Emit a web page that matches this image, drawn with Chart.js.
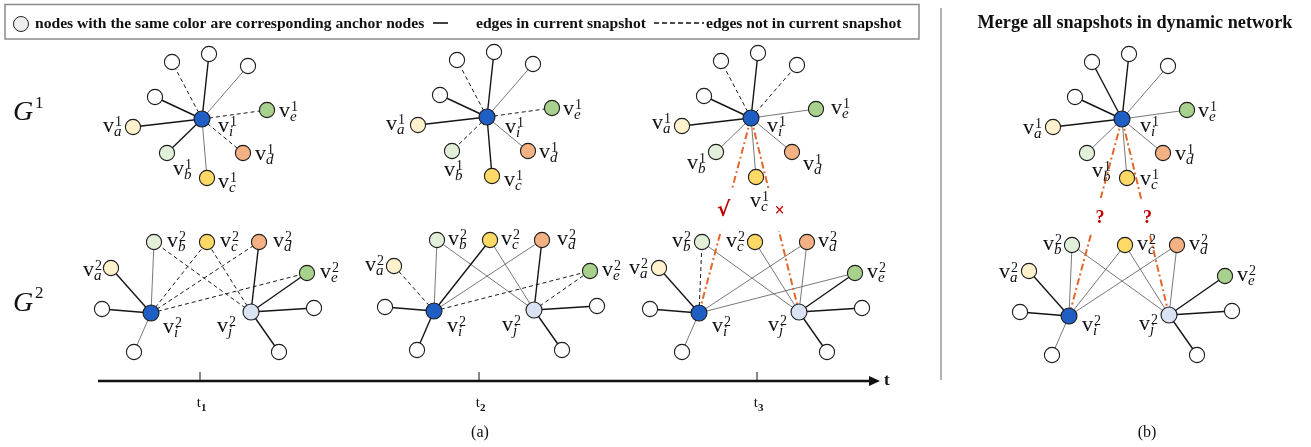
<!DOCTYPE html>
<html>
<head>
<meta charset="utf-8">
<script src="https://cdn.jsdelivr.net/npm/chart.js@4.4.1/dist/chart.umd.min.js"></script>
<style>
  html, body { margin: 0; padding: 0; background: #fff; }
  #wrap { position: relative; width: 1311px; height: 447px; }
</style>
</head>
<body>
<div id="wrap"><canvas id="graph"></canvas></div>
<script>
// G1: star around v_i^1 (offsets of every neighbour from the centre)
const g1Names = ["w1", "w2", "w3", "w4", "va", "vb", "vc", "vd", "ve"];
const g1Dx = [-30, 7, 46, -47, -69, -35, 5, 41, 65];
const g1Dy = [-57, -65, -53, -22, 8, 34, 59, 34, -9];
const g1CenterX = [202, 487, 751, 1122];
const g1CenterY = [119, 117, 118, 119];

// G2: two hubs v_i^2 and v_j^2 (offsets from v_i^2)
const g2Names = ["vj", "va", "vb", "vc", "vd", "ve", "wl", "wbi", "wr", "wbj"];
const g2Dx = [100, -40, 3, 56, 108, 156, -49, -17, 163, 128];
const g2Dy = [-1, -45, -71, -71, -71, -40, -4, 39, -5, 39];
const g2OriginX = [151, 434, 699, 1069];
const g2OriginY = [313, 311, 313, 316];

// edges per panel (s = solid, t = thin solid, d = dashed)
const g1Edges = [
  "w1:d w2:s w3:t w4:s va:s vb:s vc:t vd:d ve:d",
  "w1:d w2:s w3:t w4:s va:s vb:d vc:s vd:t ve:d",
  "w1:d w2:s w3:d w4:s va:s vb:t vc:t vd:t ve:t",
  "w1:s w2:s w3:t w4:s va:s vb:t vc:t vd:t ve:t"
];
const g2Edges = [
  "vi-va:s vi-vb:t vi-wl:s vi-wbi:t vi-vc:d vi-vd:d vi-ve:d vj-vb:d vj-vc:d vj-vd:s vj-ve:s vj-wr:s vj-wbj:s",
  "vi-va:d vi-vb:t vi-vc:s vi-vd:t vi-ve:d vi-wl:s vi-wbi:s vj-vb:t vj-vc:t vj-vd:s vj-ve:d vj-wr:s vj-wbj:s",
  "vi-va:s vi-vb:d vi-vd:t vi-ve:t vi-wl:s vi-wbi:t vj-vb:t vj-vc:t vj-vd:t vj-ve:s vj-wr:s vj-wbj:s",
  "vi-va:s vi-vb:t vi-vc:t vi-vd:t vi-wl:s vi-wbi:t vj-vb:t vj-vc:t vj-vd:t vj-ve:s vj-wr:s vj-wbj:s"
];

// anchor links v_i^1 -> G2 hub, with the mark drawn in the gap
const anchorPanel = [2, 2, 3, 3];
const anchorTarget = ["vi", "vj", "vi", "vj"];
const anchorMark = ["√", "×", "?", "?"];

const timeTicks = ["1", "2", "3"];
const timeTickX = [200, 479, 757];

// ---- layout / style tables ----
const nodeColors = {
  vi: "#1f5fc4", vj: "#dae3f3", va: "#fff2cc", vb: "#e2efd9",
  vc: "#ffd966", vd: "#f4b183", ve: "#a9d18e"
};
const edgeStyles = {
  s: { borderColor: "#151515", borderWidth: 1.4, borderDash: [] },
  t: { borderColor: "#555555", borderWidth: 0.8, borderDash: [] },
  d: { borderColor: "#1a1a1a", borderWidth: 1, borderDash: [4, 3] }
};
const g1LabelPos = [
  { va: [-30, 0], vi: [16, 8], ve: [12, 2], vd: [12, 2], vb: [6, 17], vc: [11, 5] },
  { va: [-32, 0], vi: [18, 11], ve: [11, 2], vd: [11, 2], vb: [-8, 20], vc: [12, 5] },
  { va: [-30, -2], vi: [16, 9], ve: [15, 0], vd: [11, 13], vb: [-29, 12], vc: [-6, 25] },
  { va: [-30, 2], vi: [18, 8], ve: [11, 2], vd: [12, 2], vb: [5, 19], vc: [13, 2] }
];
const g2LabelPos = [
  { va: [-28, 3], vb: [13, 0], vc: [13, 0], vd: [14, 0], ve: [13, 0], vi: [12, 15], vj: [-34, 15] },
  { va: [-29, 0], vb: [11, 0], vc: [11, 0], vd: [15, 0], ve: [12, 0], vi: [13, 16], vj: [-32, 16] },
  { va: [-30, 1], vb: [-30, 0], vc: [-29, 0], vd: [11, 0], ve: [12, 0], vi: [13, 14], vj: [-31, 14] },
  { va: [-30, 2], vb: [-29, 0], vc: [12, 0], vd: [12, 0], ve: [12, 0], vi: [13, 10], vj: [-30, 10] }
];
const anchorGap = [[188, 231], [188, 231], [198, 234], [199, 236]];
const markOffset = [[-3, 211], [6, 211], [4, 218], [2, 218]];

function nodePos(panel, graph, name) {
  if (graph === 1) {
    const cx = g1CenterX[panel], cy = g1CenterY[panel];
    if (name === "vi") return { x: cx, y: cy };
    const k = g1Names.indexOf(name);
    return { x: cx + g1Dx[k], y: cy + g1Dy[k] };
  }
  const ox = g2OriginX[panel], oy = g2OriginY[panel];
  if (name === "vi") return { x: ox, y: oy };
  const k = g2Names.indexOf(name);
  return { x: ox + g2Dx[k], y: oy + g2Dy[k] };
}

const datasets = [];
const nodePts = [], nodeFill = [], nodeRadius = [];

for (let p = 0; p < 4; p++) {
  g1Edges[p].split(" ").forEach(spec => {
    const [to, st] = spec.split(":");
    datasets.push(Object.assign({
      data: [nodePos(p, 1, "vi"), nodePos(p, 1, to)],
      showLine: true, pointRadius: 0, fill: false, order: 2
    }, edgeStyles[st]));
  });
  g2Edges[p].split(" ").forEach(spec => {
    const [pair, st] = spec.split(":");
    const [a, b] = pair.split("-");
    datasets.push(Object.assign({
      data: [nodePos(p, 2, a), nodePos(p, 2, b)],
      showLine: true, pointRadius: 0, fill: false, order: 2
    }, edgeStyles[st]));
  });
  ["vi"].concat(g1Names).forEach(n => {
    nodePts.push(nodePos(p, 1, n));
    nodeFill.push(nodeColors[n] || "#ffffff");
    nodeRadius.push(n === "vi" ? 8 : 7.6);
  });
  ["vi"].concat(g2Names).forEach(n => {
    nodePts.push(nodePos(p, 2, n));
    nodeFill.push(nodeColors[n] || "#ffffff");
    nodeRadius.push(n === "vi" || n === "vj" ? 8 : 7.6);
  });
}

anchorPanel.forEach((p, i) => {
  datasets.push({
    data: [nodePos(p, 1, "vi"), nodePos(p, 2, anchorTarget[i])],
    showLine: true, pointRadius: 0, fill: false, order: 1,
    borderColor: "#e0682a", borderWidth: 2, borderDash: [7, 3, 2, 3]
  });
});

datasets.push({
  data: nodePts, showLine: false, order: 0,
  pointRadius: nodeRadius, pointHoverRadius: nodeRadius,
  pointBackgroundColor: nodeFill, pointBorderColor: "#1c1c1c", pointBorderWidth: 1.1
});

const SERIF = "'Liberation Serif', 'Times New Roman', serif";

function vLabel(ctx, x, cy, sub, sup) {
  ctx.fillStyle = "#111";
  ctx.textAlign = "left";
  ctx.textBaseline = "alphabetic";
  ctx.font = "22px " + SERIF;
  ctx.fillText("v", x, cy + 5);
  const w = ctx.measureText("v").width;
  ctx.font = "14px " + SERIF;
  ctx.fillText(sup, x + w + 1, cy - 1);
  ctx.font = "italic 15px " + SERIF;
  ctx.fillText(sub, x + w, cy + 9);
}

const decor = {
  id: "decor",
  beforeDatasetsDraw(chart) {
    const ctx = chart.ctx;
    const X = v => chart.scales.x.getPixelForValue(v);
    const Y = v => chart.scales.y.getPixelForValue(v);
    ctx.save();
    // legend frame
    ctx.strokeStyle = "#8a8a8a";
    ctx.lineWidth = 1.5;
    ctx.strokeRect(X(5), Y(4.5), X(919) - X(5), Y(39) - Y(4.5));
    ctx.beginPath();
    ctx.arc(X(21), Y(24), 7.5, 0, Math.PI * 2);
    ctx.fillStyle = "#eeeeee";
    ctx.fill();
    ctx.strokeStyle = "#222";
    ctx.lineWidth = 1;
    ctx.stroke();
    ctx.font = "bold 15.6px " + SERIF;
    ctx.fillStyle = "#111";
    ctx.textBaseline = "middle";
    ctx.fillText("nodes with the same color are corresponding anchor nodes", X(35), Y(24));
    ctx.fillText("edges in current snapshot", X(476), Y(24));
    ctx.fillText("edges not in current snapshot", X(706), Y(24));
    ctx.strokeStyle = "#111";
    ctx.lineWidth = 1.6;
    ctx.beginPath(); ctx.moveTo(X(433), Y(23)); ctx.lineTo(X(448), Y(23)); ctx.stroke();
    ctx.setLineDash([5, 3]);
    ctx.beginPath(); ctx.moveTo(X(654), Y(23)); ctx.lineTo(X(704), Y(23)); ctx.stroke();
    ctx.setLineDash([]);

    // separator between (a) and (b)
    ctx.strokeStyle = "#9a9a9a";
    ctx.lineWidth = 1.5;
    ctx.beginPath(); ctx.moveTo(X(941), Y(8)); ctx.lineTo(X(941), Y(380)); ctx.stroke();

    ctx.font = "bold 18.2px " + SERIF;
    ctx.textAlign = "center";
    ctx.fillText("Merge all snapshots in dynamic network", X(1135), Y(23));

    // time axis
    ctx.strokeStyle = "#111";
    ctx.lineWidth = 2.5;
    ctx.beginPath(); ctx.moveTo(X(98), Y(381)); ctx.lineTo(X(872), Y(381)); ctx.stroke();
    ctx.beginPath();
    ctx.moveTo(X(880), Y(381)); ctx.lineTo(X(869), Y(376)); ctx.lineTo(X(869), Y(386)); ctx.closePath();
    ctx.fillStyle = "#111";
    ctx.fill();
    ctx.font = "bold 17px " + SERIF;
    ctx.textAlign = "left";
    ctx.fillText("t", X(884), Y(381));
    ctx.lineWidth = 1;
    timeTicks.forEach((t, i) => {
      const x = X(timeTickX[i]);
      ctx.beginPath(); ctx.moveTo(x, Y(372)); ctx.lineTo(x, Y(381)); ctx.stroke();
      ctx.font = "15px " + SERIF;
      ctx.textAlign = "right";
      ctx.fillText("t", x + 1, Y(403));
      ctx.font = "bold 11px " + SERIF;
      ctx.textAlign = "left";
      ctx.fillText(t, x + 1, Y(408));
    });
    ctx.font = "16px " + SERIF;
    ctx.textAlign = "center";
    ctx.fillText("(a)", X(480), Y(433));
    ctx.fillText("(b)", X(1147), Y(433));
    ctx.restore();
  },
  afterDatasetsDraw(chart) {
    const ctx = chart.ctx;
    const X = v => chart.scales.x.getPixelForValue(v);
    const Y = v => chart.scales.y.getPixelForValue(v);
    ctx.save();
    // gaps in the anchor links, then their marks
    anchorPanel.forEach((p, i) => {
      const a = nodePos(p, 1, "vi"), b = nodePos(p, 2, anchorTarget[i]);
      const [y0, y1] = anchorGap[i];
      const xm = a.x + (b.x - a.x) * ((y0 + y1) / 2 - a.y) / (b.y - a.y);
      ctx.fillStyle = "#fff";
      ctx.fillRect(X(xm - 7), Y(y0), 14, Y(y1) - Y(y0));
      ctx.fillStyle = "#c00000";
      ctx.font = anchorMark[i] === "√" ? "bold 20px 'DejaVu Sans', sans-serif" : "bold 18px " + SERIF;
      ctx.textAlign = "center";
      ctx.textBaseline = "middle";
      ctx.fillText(anchorMark[i], X(xm + markOffset[i][0]), Y(markOffset[i][1]));
    });
    // node labels
    for (let p = 0; p < 4; p++) {
      Object.entries(g1LabelPos[p]).forEach(([n, off]) => {
        const q = nodePos(p, 1, n);
        vLabel(ctx, X(q.x + off[0]), Y(q.y + off[1]), n[1], "1");
      });
      Object.entries(g2LabelPos[p]).forEach(([n, off]) => {
        const q = nodePos(p, 2, n);
        vLabel(ctx, X(q.x + off[0]), Y(q.y + off[1]), n[1], "2");
      });
    }
    // graph names
    [["1", 120, 108], ["2", 311, 298]].forEach(([s, base, supBase]) => {
      ctx.fillStyle = "#111";
      ctx.textAlign = "left";
      ctx.textBaseline = "alphabetic";
      ctx.font = "italic 28px " + SERIF;
      ctx.fillText("G", X(13), Y(base));
      ctx.font = "17px " + SERIF;
      ctx.fillText(s, X(35), Y(supBase));
    });
    ctx.restore();
  }
};

new Chart(document.getElementById("graph"), {
  type: "scatter",
  data: { datasets },
  options: {
    responsive: true,
    maintainAspectRatio: false,
    animation: false,
    devicePixelRatio: 1,
    layout: { padding: 0, autoPadding: false },
    plugins: { legend: { display: false }, tooltip: { enabled: false } },
    scales: {
      x: { type: "linear", min: 0, max: 1311, display: false },
      y: { type: "linear", min: 0, max: 447, reverse: true, display: false }
    }
  },
  plugins: [decor]
});
</script>
</body>
</html>
